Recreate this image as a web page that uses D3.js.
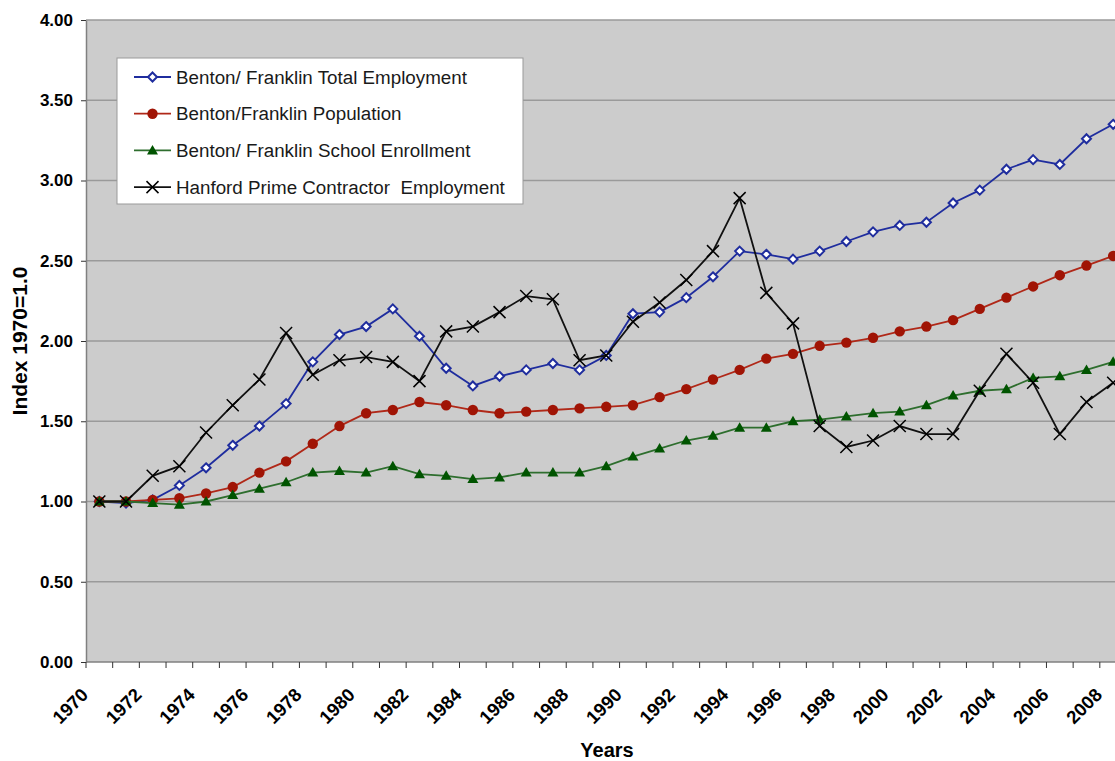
<!DOCTYPE html>
<html>
<head>
<meta charset="utf-8">
<script src="https://cdn.jsdelivr.net/npm/d3@7"></script>
<style>
  body { margin: 0; background: #fff; }
  svg { display: block; font-family: "Liberation Sans", Arial, sans-serif; }
</style>
</head>
<body>
<svg id="chart" width="1115" height="761"></svg>
<script>
// years on the category axis
var years = d3.range(1970, 2009);
var yTicks = [0, 0.5, 1, 1.5, 2, 2.5, 3, 3.5, 4];

var totalEmployment = [1.00, 0.99, 1.01, 1.10, 1.21, 1.35, 1.47, 1.61, 1.87, 2.04, 2.09, 2.20, 2.03, 1.83, 1.72, 1.78, 1.82, 1.86, 1.82, 1.91, 2.17, 2.18, 2.27, 2.40, 2.56, 2.54, 2.51, 2.56, 2.62, 2.68, 2.72, 2.74, 2.86, 2.94, 3.07, 3.13, 3.10, 3.26, 3.35];
var population = [1.00, 1.00, 1.01, 1.02, 1.05, 1.09, 1.18, 1.25, 1.36, 1.47, 1.55, 1.57, 1.62, 1.60, 1.57, 1.55, 1.56, 1.57, 1.58, 1.59, 1.60, 1.65, 1.70, 1.76, 1.82, 1.89, 1.92, 1.97, 1.99, 2.02, 2.06, 2.09, 2.13, 2.20, 2.27, 2.34, 2.41, 2.47, 2.53];
var schoolEnrollment = [1.00, 1.00, 0.99, 0.98, 1.00, 1.04, 1.08, 1.12, 1.18, 1.19, 1.18, 1.22, 1.17, 1.16, 1.14, 1.15, 1.18, 1.18, 1.18, 1.22, 1.28, 1.33, 1.38, 1.41, 1.46, 1.46, 1.50, 1.51, 1.53, 1.55, 1.56, 1.60, 1.66, 1.69, 1.70, 1.77, 1.78, 1.82, 1.87];
var hanfordEmployment = [1.00, 1.00, 1.16, 1.22, 1.43, 1.60, 1.76, 2.05, 1.79, 1.88, 1.90, 1.87, 1.75, 2.06, 2.09, 2.18, 2.28, 2.26, 1.88, 1.91, 2.12, 2.24, 2.38, 2.56, 2.89, 2.30, 2.11, 1.47, 1.34, 1.38, 1.47, 1.42, 1.42, 1.69, 1.92, 1.74, 1.42, 1.62, 1.74];

var series = [
  { name: "Benton/ Franklin Total Employment", values: totalEmployment, line: "#1f2d9e", marker: "diamond" },
  { name: "Benton/Franklin Population", values: population, line: "#b02818", marker: "circle" },
  { name: "Benton/ Franklin School Enrollment", values: schoolEnrollment, line: "#2e6e2e", marker: "triangle" },
  { name: "Hanford Prime Contractor  Employment", values: hanfordEmployment, line: "#111111", marker: "cross" }
];

var svg = d3.select("#chart"),
    margin = { top: 20, left: 86, bottom: 99 },
    plotRight = 1126.5,
    plotBottom = 761 - margin.bottom;

var x = d3.scaleBand().domain(years).range([margin.left, plotRight]).padding(0);
var y = d3.scaleLinear().domain([0, 4]).range([plotBottom, margin.top]);
var cx = function (i) { return x(years[i]) + x.bandwidth() / 2; };

// plot area
svg.append("rect")
    .attr("x", margin.left).attr("y", margin.top)
    .attr("width", plotRight - margin.left).attr("height", plotBottom - margin.top)
    .attr("fill", "#cccccc");

// gridlines
svg.append("g").selectAll("line")
    .data(yTicks.filter(function (d) { return d > 0; }))
    .enter().append("line")
    .attr("x1", margin.left).attr("x2", plotRight)
    .attr("y1", function (d) { return y(d); }).attr("y2", function (d) { return y(d); })
    .attr("stroke", "#9a9a9a").attr("stroke-width", 1.3);

// y axis
var yAxis = svg.append("g")
    .attr("transform", "translate(" + margin.left + ",0)")
    .call(d3.axisLeft(y).tickValues(yTicks).tickFormat(d3.format(".2f")).tickSize(5).tickSizeOuter(0));
yAxis.select(".domain").attr("stroke", "#808080").attr("stroke-width", 1.5);
yAxis.selectAll(".tick line").attr("stroke", "#333");
yAxis.selectAll(".tick text")
    .attr("x", -13)
    .attr("fill", "#000")
    .style("font-size", "17px").style("font-weight", "bold")
    .style("font-family", "'Liberation Sans', Arial, sans-serif");

// x axis: ticks at category boundaries
var xAxis = svg.append("g").attr("transform", "translate(0," + plotBottom + ")");
xAxis.append("line")
    .attr("x1", margin.left).attr("x2", plotRight)
    .attr("stroke", "#808080").attr("stroke-width", 1.5);
xAxis.selectAll(".tk")
    .data(years)
    .enter().append("line")
    .attr("class", "tk")
    .attr("x1", function (d) { return x(d); }).attr("x2", function (d) { return x(d); })
    .attr("y1", 0).attr("y2", 6)
    .attr("stroke", "#333");
xAxis.selectAll(".lbl")
    .data(years.filter(function (d) { return d % 2 === 0; }))
    .enter().append("text")
    .attr("class", "lbl")
    .attr("transform", function (d) { return "translate(" + (x(d) + x.bandwidth() / 2 - 10) + ",34) rotate(-45)"; })
    .attr("text-anchor", "end")
    .style("font-size", "18.5px").style("font-weight", "bold")
    .text(function (d) { return d; });

// axis titles
svg.append("text")
    .attr("transform", "translate(27," + ((margin.top + plotBottom) / 2) + ") rotate(-90)")
    .attr("text-anchor", "middle")
    .style("font-size", "21px").style("font-weight", "bold")
    .text("Index 1970=1.0");
svg.append("text")
    .attr("x", 607).attr("y", 757)
    .attr("text-anchor", "middle")
    .style("font-size", "20px").style("font-weight", "bold")
    .text("Years");

function drawMarker(g, type, color) {
  if (type === "diamond") {
    g.append("path").attr("d", "M0,-4.5L4.5,0L0,4.5L-4.5,0Z")
        .attr("fill", "#fff").attr("stroke", color).attr("stroke-width", 2);
  } else if (type === "circle") {
    g.append("circle").attr("r", 5.2).attr("fill", "#a01405");
  } else if (type === "triangle") {
    g.append("path").attr("d", "M0,-5.5L5.5,4L-5.5,4Z").attr("fill", "#005400");
  } else {
    g.append("path").attr("d", "M-6,-6L6,6M-6,6L6,-6")
        .attr("stroke", "#000").attr("stroke-width", 1.5).attr("fill", "none");
  }
}

var line = d3.line()
    .x(function (d, i) { return cx(i); })
    .y(function (d) { return y(d); });

var seriesG = svg.selectAll(".series")
    .data(series)
    .enter().append("g")
    .attr("class", "series");

seriesG.append("path")
    .attr("d", function (d) { return line(d.values); })
    .attr("fill", "none")
    .attr("stroke", function (d) { return d.line; })
    .attr("stroke-width", 1.8);

seriesG.each(function (s) {
  d3.select(this).selectAll(".pt")
      .data(s.values)
      .enter().append("g")
      .attr("class", "pt")
      .attr("transform", function (d, i) { return "translate(" + cx(i) + "," + y(d) + ")"; })
      .each(function () { drawMarker(d3.select(this), s.marker, s.line); });
});

// legend
var legend = svg.append("g").attr("transform", "translate(117,58)");
legend.append("rect")
    .attr("width", 406).attr("height", 146)
    .attr("fill", "#fff").attr("stroke", "#999").attr("stroke-width", 1);
var items = legend.selectAll(".item")
    .data(series)
    .enter().append("g")
    .attr("class", "item")
    .attr("transform", function (d, i) { return "translate(0," + (19 + i * 36.7) + ")"; });
items.append("line")
    .attr("x1", 17).attr("x2", 54)
    .attr("stroke", function (d) { return d.line; }).attr("stroke-width", 1.8);
items.append("g")
    .attr("transform", "translate(35.5,0)")
    .each(function (d) { drawMarker(d3.select(this), d.marker, d.line); });
items.append("text")
    .attr("x", 59).attr("dy", "0.35em")
    .attr("fill", "#1a1a1a")
    .style("font-size", "18.8px")
    .style("white-space", "pre")
    .attr("xml:space", "preserve")
    .text(function (d) { return d.name; });
</script>
</body>
</html>
